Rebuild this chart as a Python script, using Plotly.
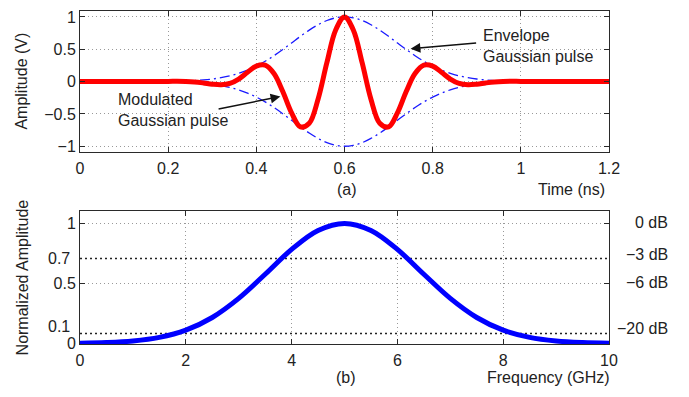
import plotly.graph_objects as go
from plotly.subplots import make_subplots

# ---- data ----
time_ns = [0.0, 0.1, 0.2, 0.22, 0.24, 0.26, 0.28, 0.30, 0.32, 0.34, 0.36, 0.38, 0.40,
           0.42, 0.44, 0.46, 0.48, 0.50, 0.52, 0.54, 0.56, 0.58, 0.60,
           0.62, 0.64, 0.66, 0.68, 0.70, 0.72, 0.74, 0.76, 0.78, 0.80,
           0.82, 0.84, 0.86, 0.88, 0.90, 0.92, 0.94, 0.96, 0.98, 1.0, 1.1, 1.2]
pulse_v = [0.0, 0.0, 0.003, 0.005, 0.003, -0.005, -0.021, -0.040, -0.049, -0.028, 0.040, 0.144, 0.240,
           0.254, 0.124, -0.153, -0.484, -0.700, -0.644, -0.272, 0.292, 0.798, 1.0,
           0.798, 0.292, -0.272, -0.644, -0.700, -0.484, -0.153, 0.124, 0.254, 0.240,
           0.144, 0.040, -0.028, -0.049, -0.040, -0.021, -0.005, 0.003, 0.005, 0.003, 0.0, 0.0]
envelope_v = [0.0, 0.0, 0.003, 0.006, 0.010, 0.016, 0.026, 0.040, 0.061, 0.089, 0.128, 0.178, 0.240,
              0.314, 0.401, 0.497, 0.598, 0.700, 0.796, 0.879, 0.945, 0.986, 1.0,
              0.986, 0.945, 0.879, 0.796, 0.700, 0.598, 0.497, 0.401, 0.314, 0.240,
              0.178, 0.128, 0.089, 0.061, 0.040, 0.026, 0.016, 0.010, 0.006, 0.003, 0.0, 0.0]
envelope_neg = [-v for v in envelope_v]

freq_ghz = [0, 0.5, 1, 1.5, 2, 2.5, 3, 3.5, 4, 4.5, 5, 5.5, 6, 6.5, 7, 7.5, 8, 8.5, 9, 9.5, 10]
spectrum = [0.002, 0.007, 0.020, 0.050, 0.110, 0.216, 0.375, 0.576, 0.783, 0.941, 1.0,
            0.941, 0.783, 0.576, 0.375, 0.216, 0.110, 0.050, 0.020, 0.007, 0.002]

ref_levels = [0.707, 0.083]          # -3 dB and -20 dB dotted lines
db_labels = ["0 dB", "\u22123 dB", "\u22126 dB", "\u221220 dB"]

top_xticks = [0, 0.2, 0.4, 0.6, 0.8, 1.0, 1.2]
top_xlabels = ["0", "0.2", "0.4", "0.6", "0.8", "1", "1.2"]
top_yticks = [-1, -0.5, 0, 0.5, 1]
top_ylabels = ["\u22121", "\u22120.5", "0", "0.5", "1"]
bot_xticks = [0, 2, 4, 6, 8, 10]
bot_xlabels = ["0", "2", "4", "6", "8", "10"]
bot_yticks = [0, 0.5, 1]
bot_ylabels = ["0", "0.5", "1"]

FONT = "Liberation Sans, Arial, Helvetica, sans-serif"
FS = 16
AX = "#2a2a2a"
ENV_DASH = "10px,4px,2px,4px"

fig = make_subplots(rows=2, cols=1)

fig.add_trace(go.Scatter(x=time_ns, y=envelope_v, mode="lines", line_shape="spline",
                         line=dict(color="#1a1aff", width=1.3, dash=ENV_DASH)), row=1, col=1)
fig.add_trace(go.Scatter(x=time_ns, y=envelope_neg, mode="lines", line_shape="spline",
                         line=dict(color="#1a1aff", width=1.3, dash=ENV_DASH)), row=1, col=1)
fig.add_trace(go.Scatter(x=time_ns, y=pulse_v, mode="lines", line_shape="spline",
                         line=dict(color="#ff0000", width=5)), row=1, col=1)

for lv in ref_levels:
    fig.add_trace(go.Scatter(x=[freq_ghz[0], freq_ghz[-1]], y=[lv, lv], mode="lines",
                             line=dict(color="#222222", width=1.6, dash="2px,3px")), row=2, col=1)
fig.add_trace(go.Scatter(x=freq_ghz, y=spectrum, mode="lines", line_shape="spline",
                         line=dict(color="#0000ff", width=5)), row=2, col=1)

axis_common = dict(showline=True, linecolor=AX, linewidth=1, mirror="allticks",
                   ticks="inside", ticklen=5, tickcolor=AX, tickwidth=1,
                   showgrid=True, gridcolor="#999999", gridwidth=1, griddash="1px,3px",
                   zeroline=False, tickfont=dict(family=FONT, size=FS, color="#222"))

fig.update_layout(
    width=689, height=397,
    margin=dict(l=80, r=80, t=9, b=53),
    paper_bgcolor="white", plot_bgcolor="white",
    showlegend=False,
    font=dict(family=FONT, size=FS, color="#222"),
    xaxis=dict(domain=[0, 1], range=[0, 1.2], tickvals=top_xticks, ticktext=top_xlabels,
               ticklabelstandoff=2, **axis_common),
    yaxis=dict(domain=[0.576, 1], range=[-1.092, 1.092], tickvals=top_yticks, ticktext=top_ylabels, **axis_common),
    xaxis2=dict(domain=[0, 1], range=[0, 10], tickvals=bot_xticks, ticktext=bot_xlabels,
                ticklabelstandoff=2, **axis_common),
    yaxis2=dict(domain=[0, 0.4], range=[-0.005, 1.105], tickvals=bot_yticks, ticktext=bot_ylabels, **axis_common),
)

anns = []
# axis titles
anns.append(dict(text="Amplitude (V)", xref="paper", yref="paper", x=-0.1096, y=0.788,
                 textangle=-90, showarrow=False, xanchor="center", yanchor="middle"))
anns.append(dict(text="Normalized Amplitude", xref="paper", yref="paper", x=-0.1096, y=0.2,
                 textangle=-90, showarrow=False, xanchor="center", yanchor="middle"))
anns.append(dict(text="(a)", xref="paper", yref="paper", x=0.505, y=0.4627,
                 showarrow=False, xanchor="center", yanchor="middle"))
anns.append(dict(text="Time (ns)", xref="paper", yref="paper", x=0.996, y=0.4627,
                 showarrow=False, xanchor="right", yanchor="middle"))
anns.append(dict(text="(b)", xref="paper", yref="paper", x=0.503, y=-0.1015,
                 showarrow=False, xanchor="center", yanchor="middle"))
anns.append(dict(text="Frequency (GHz)", xref="paper", yref="paper", x=1.006, y=-0.1015,
                 showarrow=False, xanchor="right", yanchor="middle"))
# extra left labels on the spectrum axis
anns.append(dict(text="0.7", xref="paper", yref="y2", x=-0.015, y=0.707,
                 showarrow=False, xanchor="right", yanchor="middle"))
anns.append(dict(text="0.1", xref="paper", yref="y2", x=-0.015, y=0.138,
                 showarrow=False, xanchor="right", yanchor="middle"))
# dB labels on the right
for lab, yy in zip(db_labels, [0.365, 0.2687, 0.186, 0.0469]):
    anns.append(dict(text=lab, xref="paper", yref="paper", x=1.115, y=yy,
                     showarrow=False, xanchor="right", yanchor="middle"))
# callouts
anns.append(dict(text="Envelope<br>Gaussian pulse", xref="x", yref="y", x=0.909, y=0.546,
                 showarrow=False, xanchor="left", yanchor="middle", align="left"))
anns.append(dict(text="", xref="x", yref="y", x=0.75, y=0.508, axref="x", ayref="y",
                 ax=0.902, ay=0.60, showarrow=True, arrowhead=2, arrowsize=1.3,
                 arrowwidth=1.5, arrowcolor="#111"))
anns.append(dict(text="Modulated<br>Gaussian pulse", xref="x", yref="y", x=0.082, y=-0.446,
                 showarrow=False, xanchor="left", yanchor="middle", align="left"))
anns.append(dict(text="", xref="x", yref="y", x=0.4545, y=-0.23, axref="x", ayref="y",
                 ax=0.311, ay=-0.43, showarrow=True, arrowhead=2, arrowsize=1.3,
                 arrowwidth=1.5, arrowcolor="#111"))
fig.update_layout(annotations=anns)

fig.write_html("out.html")
